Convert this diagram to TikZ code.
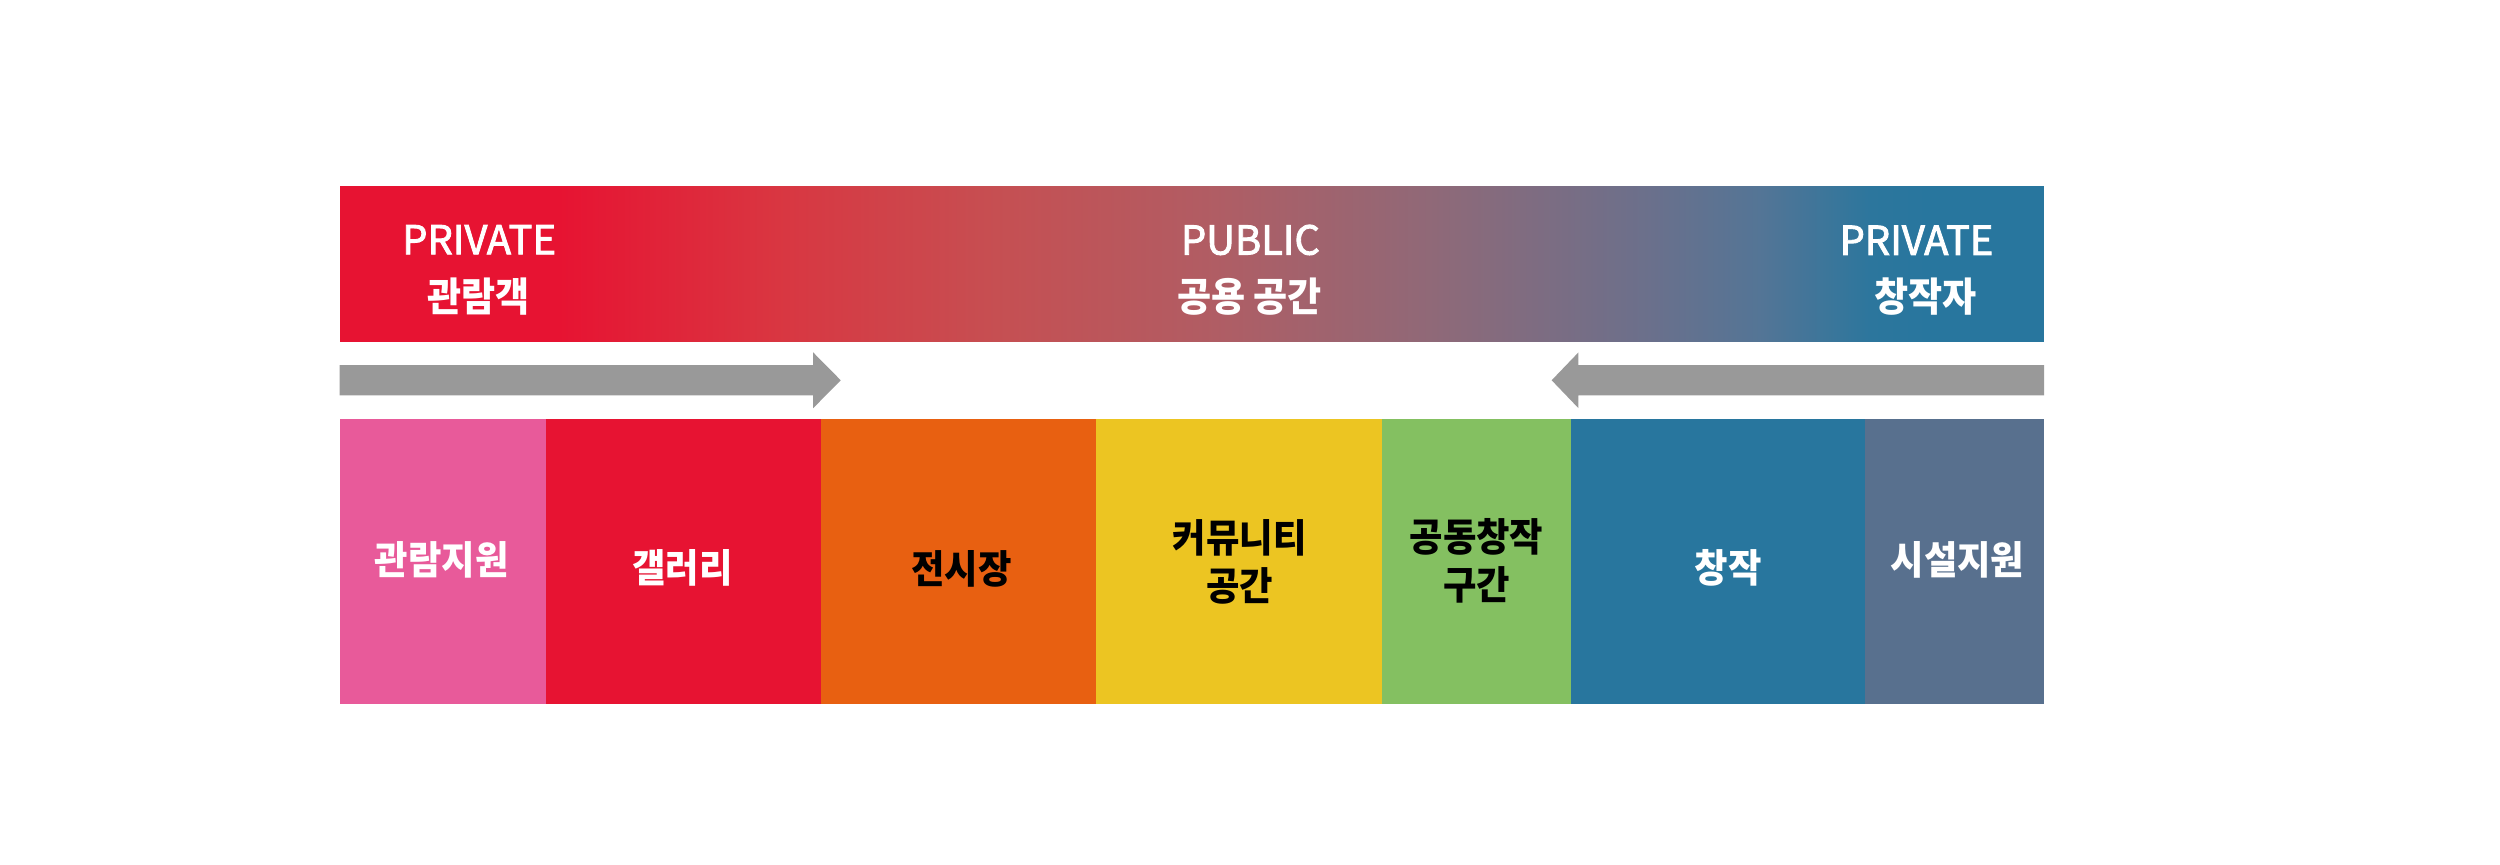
\documentclass[tikz,border=0pt]{standalone}
\usepackage{fontspec}
\newfontfamily\latfont[BoldFont={Noto Sans CJK KR}, BoldFeatures={FakeBold=2.2}]{Noto Sans CJK KR}
\newfontfamily\krfont[FakeStretch=0.93]{Noto Sans CJK KR}
\definecolor{cred}{HTML}{E71332}
\definecolor{cpink}{HTML}{E85A9A}
\definecolor{corange}{HTML}{E86011}
\definecolor{cyellow}{HTML}{ECC522}
\definecolor{cgreen}{HTML}{84C061}
\definecolor{cblue}{HTML}{28769E}
\definecolor{cslate}{HTML}{58708E}
\definecolor{cgray}{HTML}{999999}
\definecolor{g1}{HTML}{E71332}
\definecolor{g2}{HTML}{D93641}
\definecolor{g3}{HTML}{C64F52}
\definecolor{g4}{HTML}{B05D64}
\definecolor{g5}{HTML}{8F6978}
\definecolor{g6}{HTML}{6A708C}
\definecolor{g7}{HTML}{537596}
\definecolor{g8}{HTML}{2C769D}
\definecolor{g9}{HTML}{28769E}
\tikzset{
  box/.style={draw=none, inner sep=0pt, outer sep=0pt, anchor=north west, minimum height=178.8pt},
  toplabel/.style={text=white, inner sep=0pt, anchor=center, font=\latfont\bfseries\fontsize{25}{30}\selectfont},
  topkr/.style={text=white, inner sep=0pt, anchor=center, font=\krfont\bfseries\fontsize{25}{30}\selectfont},
  boxlabel/.style={inner sep=0pt, anchor=center, align=center, font=\krfont\bfseries\fontsize{24.5}{30}\selectfont},
  arrowshape/.style={fill=cgray, draw=none}
}
\begin{document}
\begin{tikzpicture}[x=1pt,y=-1pt]
\useasboundingbox (0,0) rectangle (1568,541.9);
\fill[white] (0,0) rectangle (1568,541.9);
% top gradient bar
\fill[g1] (213,116.7) rectangle (351,214.3);
\shade[left color=g1, right color=g2] (350,116.7) rectangle (488,214.3);
\shade[left color=g2, right color=g3] (487,116.7) rectangle (625,214.3);
\shade[left color=g3, right color=g4] (624,116.7) rectangle (763,214.3);
\shade[left color=g4, right color=g5] (762,116.7) rectangle (900,214.3);
\shade[left color=g5, right color=g6] (899,116.7) rectangle (1037,214.3);
\shade[left color=g6, right color=g7] (1036,116.7) rectangle (1106,214.3);
\shade[left color=g7, right color=g8] (1105,116.7) rectangle (1174,214.3);
\shade[left color=g8, right color=g9] (1173,116.7) rectangle (1210,214.3);
\fill[g9] (1209,116.7) rectangle (1282,214.3);
\coordinate (topbar) at (747.5,165.5);
% top labels
\node[toplabel] (pl) at (300.5,150.3) {PRIVATE};
\node[topkr] (plk) at (300,185.7) {관람객};
\node[toplabel] (pu) at (784.3,150.5) {PUBLIC};
\node[topkr] (puk) at (783.7,185.8) {공용 공간};
\node[toplabel] (pr) at (1202,150.7) {PRIVATE};
\node[topkr] (prk) at (1207.7,186.3) {창작자};
% arrows
\fill[arrowshape] (213,229) -- (510,229) -- (510,221) -- (527.3,238.5) -- (510,256) -- (510,248) -- (213,248) -- cycle;
\fill[arrowshape] (1282,229) -- (990,229) -- (990,221) -- (973.2,238.5) -- (990,256) -- (990,248) -- (1282,248) -- cycle;
% bottom boxes
\node[box, fill=cpink, minimum width=129.3pt] (b1) at (213,262.8) {};
\node[box, fill=cred, minimum width=172.7pt] (b2) at (342.3,262.8) {};
\node[box, fill=corange, minimum width=172.7pt] (b3) at (515,262.8) {};
\node[box, fill=cyellow, minimum width=179.3pt] (b4) at (687.7,262.8) {};
\node[box, fill=cgreen, minimum width=118.5pt] (b5) at (867,262.8) {};
\node[box, fill=cblue, minimum width=184pt] (b6) at (985.5,262.8) {};
\node[box, fill=cslate, minimum width=112.5pt] (b7) at (1169.5,262.8) {};
% box labels
\node[boxlabel, text=white] (t1) at (277,351.2) {관람지원};
\node[boxlabel, text=white] (t2) at (428,356) {갤러리};
\node[boxlabel, text=black] (t3) at (603,356.5) {전시장};
\node[boxlabel, text=black] (t4) at (777.5,352.5) {커뮤니티\\공간};
\node[boxlabel, text=black] (t5) at (926,352) {공동창작\\구간};
\node[boxlabel, text=white] (t6) at (1084,356) {창작};
\node[boxlabel, text=white] (t7) at (1227.7,351.2) {시설지원};
\end{tikzpicture}
\end{document}
